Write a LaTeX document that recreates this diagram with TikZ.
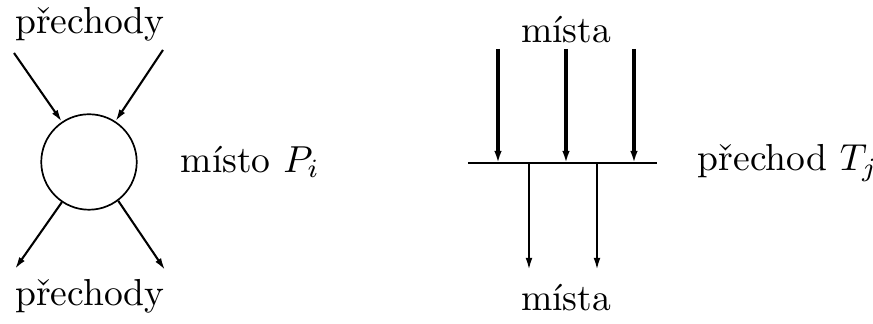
\documentclass[tikz,border=0pt]{standalone}
\usetikzlibrary{arrows.meta}
\begin{document}
\begin{tikzpicture}[x=0.266pt,y=-0.266pt,
  arr/.style={line width=0.55pt,-{Latex[length=3.2pt,width=1.8pt]}},
  thickarr/.style={line width=0.85pt,-{Latex[length=3.2pt,width=2pt]}},
  lbl/.style={inner sep=0pt}]
\useasboundingbox (0,0) rectangle (873,324);
% left part
\node[circle,draw,line width=0.45pt,minimum size=25.4pt,inner sep=0pt] (P) at (89,162) {};
\node[lbl] (tt) at (90,24) {přechody};
\node[lbl] (tb) at (90,296) {přechody};
\node[lbl,anchor=west] (pl) at (180,162) {místo $P_i$};
\coordinate (a1) at (14,53);
\coordinate (a2) at (163,50);
\coordinate (b1) at (15,269);
\coordinate (b2) at (165,270);
\draw[arr] (a1) -- (P.124);
\draw[arr] (a2) -- (P.57);
\draw[arr] (P.236) -- (b1);
\draw[arr] (P.307) -- (b2);
% right part
\coordinate (hl) at (468,163);
\coordinate (hr) at (657,163);
\draw[line width=0.45pt] (hl) -- (hr);
\node[lbl] (mt) at (566,30) {místa};
\node[lbl] (mb) at (566,298) {místa};
\node[lbl,anchor=west] (tl) at (697,163) {přechod $T_j$};
\coordinate (i1) at (498,49); \coordinate (j1) at (498,163);
\coordinate (i2) at (566,49); \coordinate (j2) at (566,163);
\coordinate (i3) at (634,49); \coordinate (j3) at (634,163);
\draw[thickarr] (i1) -- (j1);
\draw[thickarr] (i2) -- (j2);
\draw[thickarr] (i3) -- (j3);
\coordinate (o1) at (529,163); \coordinate (q1) at (529,270);
\coordinate (o2) at (597,163); \coordinate (q2) at (597,270);
\draw[arr] (o1) -- (q1);
\draw[arr] (o2) -- (q2);
\end{tikzpicture}
\end{document}
